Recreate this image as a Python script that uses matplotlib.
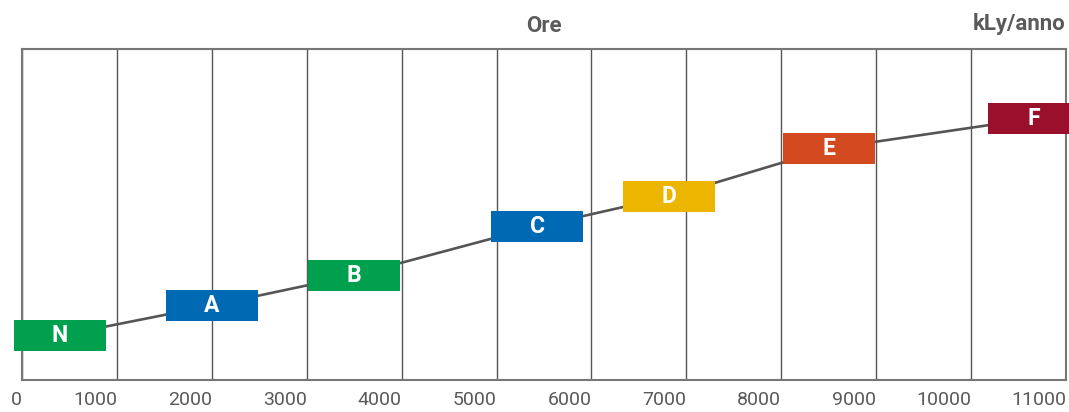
import matplotlib.pyplot as plt
from matplotlib.patches import Rectangle
from matplotlib.transforms import blended_transform_factory

plt.rcParams['font.family'] = ['Roboto', 'DejaVu Sans']

# classi (x = ore, y = kLy/anno, scala relativa 0-100)
classi = ['N', 'A', 'B', 'C', 'D', 'E', 'F']
ore = [400, 2000, 3500, 5430, 6820, 8500, 10660]
kly = [13.4, 22.5, 31.6, 46.4, 55.4, 69.9, 79.0]
colori = ['#00a04f', '#0069b3', '#00a04f', '#0069b3', '#ecb500', '#d34a21', '#9a0f2c']
tick_ore = list(range(0, 11001, 1000))

larg = 970   # larghezza box (ore)
alt = 9.4    # altezza box

fig = plt.figure(figsize=(10.69, 4.12), dpi=100)
ax = fig.add_axes([22 / 1069, 32 / 412, 1044 / 1069, 331 / 412])

ax.plot(ore, kly, color='#555555', linewidth=1.9, zorder=2, clip_on=False)

for c, x, y, col in zip(classi, ore, kly, colori):
    ax.add_patch(Rectangle((x - larg / 2, y - alt / 2), larg, alt,
                           facecolor=col, edgecolor='none', zorder=3, clip_on=False))
    ax.text(x, y, c, color='white', fontsize=16.5, fontweight='bold',
            ha='center', va='center', zorder=4)

ax.set_xlim(0, 11000)
ax.set_ylim(0, 100)
ax.set_xticks(tick_ore)
ax.set_xticklabels([str(t) for t in tick_ore], ha='right')
ax.set_yticks([])
ax.tick_params(axis='x', length=0, pad=8, labelsize=14, labelcolor='#5a5a5a')
ax.grid(axis='x', color='#555555', linewidth=1.0)
ax.set_axisbelow(True)
for s in ax.spines.values():
    s.set_color('#777777')
    s.set_linewidth(1.5)

tr = blended_transform_factory(ax.transData, ax.transAxes)
ax.annotate('Ore', xy=(5500, 1), xycoords=tr, xytext=(0, 17), textcoords='offset pixels',
            ha='center', va='baseline', fontsize=16, fontweight='bold', color='#5a5a5a')
ax.annotate('kLy/anno', xy=(11000, 1), xycoords=tr, xytext=(0, 19), textcoords='offset pixels',
            ha='right', va='baseline', fontsize=16, fontweight='bold', color='#5a5a5a')

plt.savefig('out.png', dpi=100)
